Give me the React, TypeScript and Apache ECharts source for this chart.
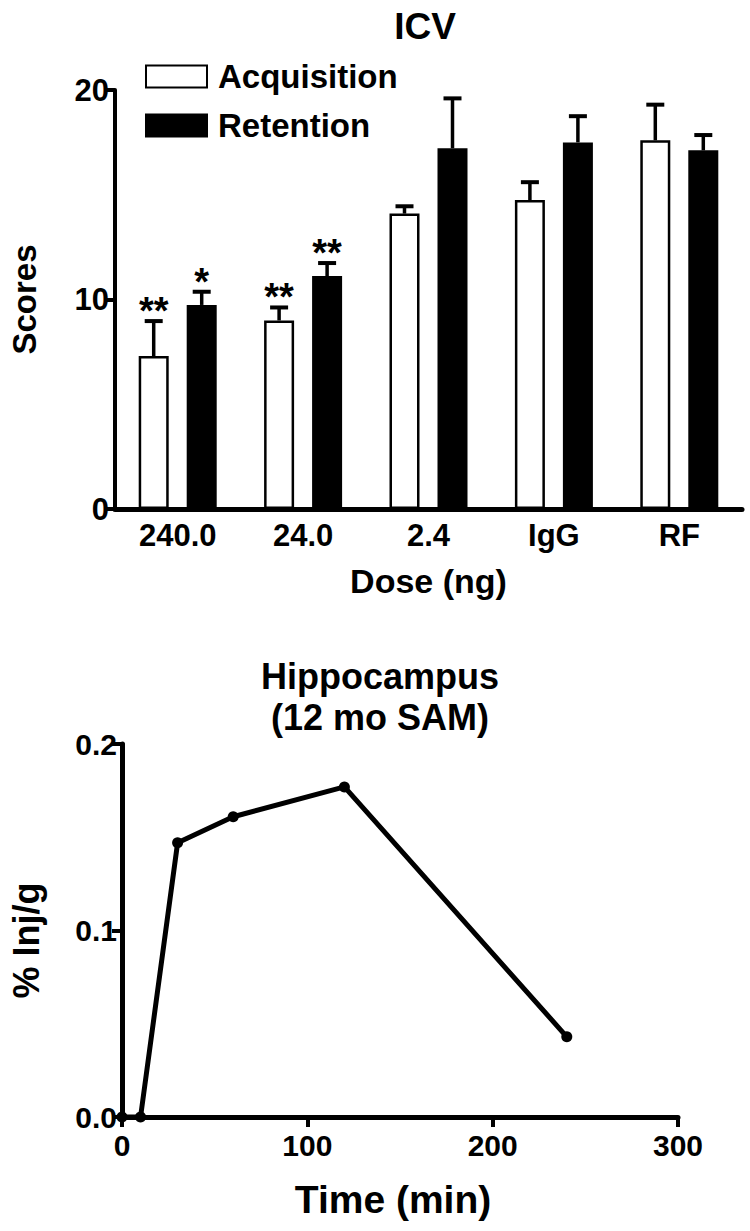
import React, { useEffect, useRef } from 'react';
import * as echarts from 'echarts';

// ---- Top panel: ICV (bar chart) ----
const doseCategories = ['240.0', '24.0', '2.4', 'IgG', 'RF'];
const acquisitionMeans = [7.3, 9.0, 14.1, 14.75, 17.6];
const acquisitionErrTop = [8.97, 9.62, 14.45, 15.6, 19.3];
const retentionMeans = [9.74, 11.12, 17.22, 17.5, 17.12];
const retentionErrTop = [10.37, 11.74, 19.6, 18.75, 17.85];
const acquisitionSig = ['**', '**', '', '', ''];
const retentionSig = ['*', '**', '', '', ''];
const scoreTicks = [0, 10, 20];

// ---- Bottom panel: Hippocampus (line chart) ----
const timeMin = [0, 10, 30, 60, 120, 240];
const injPerG = [0, 0, 0.147, 0.161, 0.177, 0.043];
const timeTicks = [0, 100, 200, 300];
const injTicks = [0.0, 0.1, 0.2];

const FONT = '"Liberation Sans", Arial, Helvetica, sans-serif';

function errorSeries(name: string, means: number[], tops: number[], sigs: string[], offset: number) {
  return {
    type: 'custom',
    name,
    xAxisIndex: 0,
    yAxisIndex: 0,
    z: 5,
    encode: { x: 0, y: [1, 2] },
    data: means.map((m, i) => [i, m, tops[i]]),
    renderItem: (params: any, api: any) => {
      const i = api.value(0);
      const base = api.coord([i, api.value(1)]);
      const top = api.coord([i, api.value(2)]);
      const x = base[0] + offset;
      const children: any[] = [
        { type: 'line', shape: { x1: x, y1: base[1], x2: x, y2: top[1] }, style: { stroke: '#000', lineWidth: 3.5 } },
        { type: 'line', shape: { x1: x - 9, y1: top[1], x2: x + 9, y2: top[1] }, style: { stroke: '#000', lineWidth: 4 } },
      ];
      const s = sigs[params.dataIndex];
      if (s) {
        children.push({
          type: 'text',
          style: {
            text: s,
            x,
            y: top[1] - 10,
            align: 'center',
            verticalAlign: 'middle',
            font: `bold 38px ${FONT}`,
            fill: '#000',
          },
        });
      }
      return { type: 'group', children };
    },
  };
}

const option: any = {
  animation: false,
  backgroundColor: '#fff',
  textStyle: { fontFamily: FONT, color: '#000' },
  title: [
    {
      text: 'ICV',
      left: 425,
      top: 8,
      padding: 0,
      textAlign: 'center',
      textStyle: { fontFamily: FONT, fontWeight: 'bold', fontSize: 37, color: '#000' },
    },
    {
      text: 'Hippocampus\n(12 mo SAM)',
      left: 380,
      top: 656,
      padding: 0,
      textAlign: 'center',
      textStyle: { fontFamily: FONT, fontWeight: 'bold', fontSize: 36, lineHeight: 41, color: '#000' },
    },
  ],
  legend: {
    data: ['Acquisition', 'Retention'],
    orient: 'vertical',
    left: 145,
    top: 60,
    padding: 0,
    icon: 'rect',
    itemWidth: 61,
    itemHeight: 22,
    itemGap: 16,
    textStyle: { fontFamily: FONT, fontWeight: 'bold', fontSize: 33, color: '#000', padding: [0, 0, 0, 6] },
  },
  grid: [
    { left: 111, right: 8, top: 90, height: 419 },
    { left: 117, right: 72, top: 744, height: 373 },
  ],
  xAxis: [
    {
      gridIndex: 0,
      type: 'category',
      data: doseCategories,
      axisLine: { lineStyle: { color: '#000', width: 5 } },
      axisTick: { show: false },
      axisLabel: { fontFamily: FONT, fontWeight: 'bold', fontSize: 31, color: '#000', margin: 11 },
      name: 'Dose (ng)',
      nameLocation: 'middle',
      nameGap: 55,
      nameTextStyle: { fontFamily: FONT, fontWeight: 'bold', fontSize: 34, color: '#000' },
    },
    {
      gridIndex: 1,
      type: 'value',
      min: timeTicks[0],
      max: timeTicks[timeTicks.length - 1],
      interval: 100,
      splitLine: { show: false },
      axisLine: { lineStyle: { color: '#000', width: 5 } },
      axisTick: { show: true, length: 10, lineStyle: { color: '#000', width: 4 } },
      axisLabel: { fontFamily: FONT, fontWeight: 'bold', fontSize: 30, color: '#000', margin: 13 },
      name: 'Time (min)',
      nameLocation: 'middle',
      nameGap: 63,
      nameTextStyle: { fontFamily: FONT, fontWeight: 'bold', fontSize: 39, color: '#000', padding: [0, 14, 0, 0] },
    },
  ],
  yAxis: [
    {
      gridIndex: 0,
      type: 'value',
      min: scoreTicks[0],
      max: scoreTicks[scoreTicks.length - 1],
      interval: 10,
      splitLine: { show: false },
      axisLine: { show: true, lineStyle: { color: '#000', width: 4 } },
      axisTick: { show: true, length: 10, lineStyle: { color: '#000', width: 4 } },
      axisLabel: { fontFamily: FONT, fontWeight: 'bold', fontSize: 31, color: '#000', margin: 6 },
      name: 'Scores',
      nameLocation: 'middle',
      nameRotate: 90,
      nameGap: 74,
      nameTextStyle: { fontFamily: FONT, fontWeight: 'bold', fontSize: 33, color: '#000' },
    },
    {
      gridIndex: 1,
      type: 'value',
      min: injTicks[0],
      max: injTicks[injTicks.length - 1],
      interval: 0.1,
      splitLine: { show: false },
      axisLine: { show: true, lineStyle: { color: '#000', width: 5 } },
      axisTick: { show: true, length: 10, lineStyle: { color: '#000', width: 4 } },
      axisLabel: {
        fontFamily: FONT,
        fontWeight: 'bold',
        fontSize: 30,
        color: '#000',
        margin: 5,
        formatter: (v: number) => v.toFixed(1),
      },
      name: '% Inj/g',
      nameLocation: 'middle',
      nameRotate: 90,
      nameGap: 78,
      nameTextStyle: { fontFamily: FONT, fontWeight: 'bold', fontSize: 36, color: '#000', padding: [0, 20, 0, 0] },
    },
  ],
  series: [
    {
      type: 'bar',
      name: 'Acquisition',
      xAxisIndex: 0,
      yAxisIndex: 0,
      data: acquisitionMeans,
      barWidth: 30,
      barGap: '60%',
      itemStyle: { color: '#fff', borderColor: '#000', borderWidth: 2.5 },
    },
    {
      type: 'bar',
      name: 'Retention',
      xAxisIndex: 0,
      yAxisIndex: 0,
      data: retentionMeans,
      barWidth: 30,
      barGap: '60%',
      itemStyle: { color: '#000', borderColor: '#000', borderWidth: 2 },
    },
    errorSeries('Acquisition error', acquisitionMeans, acquisitionErrTop, acquisitionSig, -24),
    errorSeries('Retention error', retentionMeans, retentionErrTop, retentionSig, 24),
    {
      type: 'line',
      name: 'Hippocampus',
      xAxisIndex: 1,
      yAxisIndex: 1,
      data: timeMin.map((t, i) => [t, injPerG[i]]),
      symbol: 'circle',
      symbolSize: 11,
      showSymbol: true,
      lineStyle: { color: '#000', width: 5 },
      itemStyle: { color: '#000' },
      z: 3,
    },
  ],
};

export default function App() {
  const ref = useRef<HTMLDivElement>(null);
  useEffect(() => {
    document.body.style.margin = '0';
    document.body.style.overflow = 'hidden';
    const chart = echarts.init(ref.current as HTMLDivElement, null, { renderer: 'svg' });
    chart.setOption(option);
    return () => chart.dispose();
  }, []);
  return <div ref={ref} style={{ width: 750, height: 1231 }} />;
}
